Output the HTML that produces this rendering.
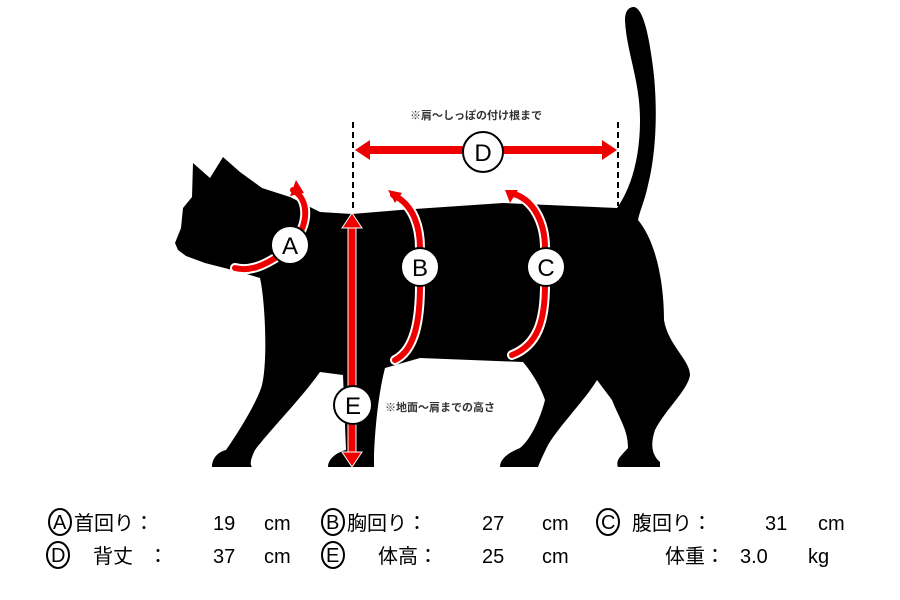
<!DOCTYPE html>
<html><head><meta charset="utf-8"><style>
html,body{margin:0;padding:0;background:#fff;width:900px;height:600px;overflow:hidden}
svg{display:block}
text{font-family:"Liberation Sans","Noto Sans CJK JP",sans-serif}
</style></head><body>
<svg width="900" height="600" viewBox="0 0 900 600" xmlns="http://www.w3.org/2000/svg">
<path fill="#000" d="M175,243 L181,228 L183,208 L192,197 L193,163 L210,178 L223,157 L240,172 L262,188 L290,197 L320,212 L352,214 L400,210 L503,203 L617,208
C630,190 640,160 640,120 C640,80 626,50 625,20 C625,12 628,7 634,7 C642,8 648,30 652,60 C658,100 657,150 648,185 C645,200 640,210 638,220
C655,240 664,280 664,320 C668,345 690,360 690,375 C688,390 665,410 655,430 C650,445 652,455 660,462 L660,467 L618,467 C615,460 622,455 628,448 C628,430 620,420 612,400 L597,380 C585,400 560,425 548,445 C543,455 540,462 538,467 L500,467 C500,458 510,452 520,448 C530,440 540,420 545,400 C540,385 530,370 523,362 L420,358 L385,368 C378,395 375,430 374,455 L374,467 L328,467 C328,458 338,452 346,450 L343,375 L320,372 C300,400 270,430 255,450 C250,460 250,465 252,467 L212,467 C212,458 218,452 226,450 C240,430 258,400 262,385 C268,360 265,300 260,278 L240,272 L205,263 L186,256 L178,250 Z"/>
<!-- dashed lines -->
<g stroke="#000" stroke-width="2" stroke-dasharray="6,4">
<line x1="353" y1="122" x2="353" y2="212"/>
<line x1="618" y1="122" x2="618" y2="206"/>
</g>
<!-- D arrow -->
<g fill="#e00">
<rect x="365" y="146" width="240" height="8"/>
<polygon points="355,150 370,140 370,160"/>
<polygon points="617,150 602,140 602,160"/>
</g>
<!-- E arrow -->
<g stroke="#fff" stroke-width="1">
<rect x="348" y="225" width="8" height="230" fill="#e00"/>
<polygon points="352,213 342,228 362,228" fill="#e00"/>
<polygon points="352,467 342,452 362,452" fill="#e00"/>
</g>
<!-- arcs -->
<g fill="none" stroke-linecap="round">
<path d="M293,190 C310,200 308,225 295,240 M280,255 C265,265 250,272 235,268" stroke="#fff" stroke-width="10"/>
<path d="M293,190 C310,200 308,225 295,240 M280,255 C265,265 250,272 235,268" stroke="#e00" stroke-width="6"/>
<path d="M393,195 C415,205 420,230 420,248 M420,285 C420,320 415,350 395,360" stroke="#fff" stroke-width="10"/>
<path d="M393,195 C415,205 420,230 420,248 M420,285 C420,320 415,350 395,360" stroke="#e00" stroke-width="6"/>
<path d="M510,193 C535,198 545,225 545,248 M545,285 C545,320 538,345 512,355" stroke="#fff" stroke-width="10"/>
<path d="M510,193 C535,198 545,225 545,248 M545,285 C545,320 538,345 512,355" stroke="#e00" stroke-width="6"/>
</g>
<g fill="#e00">
<polygon points="296,180 290,196 304,193"/>
<polygon points="388,190 395,203 402,193"/>
<polygon points="505,190 510,203 518,190"/>
</g>
<!-- circles -->
<g fill="#fff" stroke="#000" stroke-width="2">
<circle cx="290" cy="245" r="19"/>
<circle cx="420" cy="267" r="19"/>
<circle cx="546" cy="267" r="19"/>
<circle cx="483" cy="152" r="20"/>
<circle cx="353" cy="405" r="19"/>
</g>
<g font-size="24" text-anchor="middle" fill="#000">
<text x="290" y="254">A</text>
<text x="420" y="276">B</text>
<text x="546" y="276">C</text>
<text x="483" y="161">D</text>
<text x="353" y="414">E</text>
</g>
<text x="410" y="119" font-size="11" font-weight="bold" fill="#333">※肩～しっぽの付け根まで</text>
<text x="385" y="411" font-size="11" font-weight="bold" fill="#333">※地面～肩までの高さ</text>
<!-- bottom -->
<g fill="none" stroke="#000" stroke-width="2">
<ellipse cx="60" cy="522" rx="11" ry="13"/>
<ellipse cx="333" cy="522" rx="11" ry="13"/>
<ellipse cx="608" cy="522" rx="11" ry="13"/>
<ellipse cx="58" cy="555" rx="11" ry="13"/>
<ellipse cx="333" cy="555" rx="11" ry="13"/>
</g>
<g font-size="20" fill="#000">
<text x="53" y="529">A</text><text x="326" y="529">B</text><text x="601" y="529">C</text>
<text x="51" y="562">D</text><text x="326" y="562">E</text>
<text x="74" y="530">首回り：</text>
<text x="213" y="530">19</text><text x="264" y="530">cm</text>
<text x="347" y="530">胸回り：</text>
<text x="482" y="530">27</text><text x="542" y="530">cm</text>
<text x="632" y="530">腹回り：</text>
<text x="765" y="530">31</text><text x="818" y="530">cm</text>
<text x="93" y="563">背丈</text><text x="148" y="563">：</text>
<text x="213" y="563">37</text><text x="264" y="563">cm</text>
<text x="378" y="563">体高：</text>
<text x="482" y="563">25</text><text x="542" y="563">cm</text>
<text x="665" y="563">体重：</text>
<text x="740" y="563">3.0</text><text x="808" y="563">kg</text>
</g>
</svg>
</body></html>
